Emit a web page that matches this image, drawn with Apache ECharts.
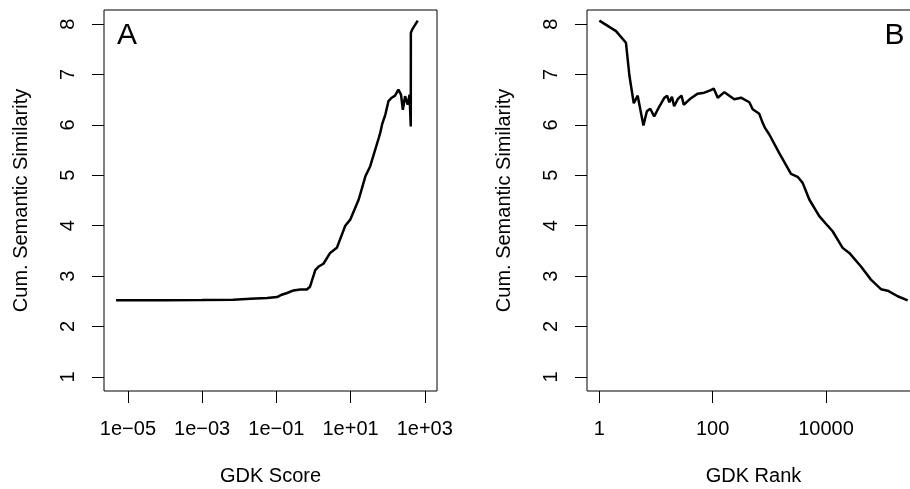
<!DOCTYPE html>
<html><head><meta charset="utf-8">
<script src="https://cdn.jsdelivr.net/npm/echarts@6/dist/echarts.min.js"></script>
<style>html,body{margin:0;padding:0;background:#fff}#c{width:910px;height:489px}</style>
</head><body><div id="c"></div>
<script>
// Panel A: cumulative semantic similarity vs GDK score
const scoreA = [4.8e-6, 1e-4, 1e-3, 6.9e-3, 0.02, 0.056, 0.105, 0.14, 0.195, 0.29, 0.44, 0.66, 0.81,
  1.12, 1.38, 1.86, 2.82, 4.27, 7.2, 9.8, 16.6, 25.1, 33.9, 57.5, 63, 68, 70.8, 87, 105, 129, 158, 195,
  229, 257, 295, 347, 389, 420, 422, 457, 646];
const simA = [2.52, 2.52, 2.525, 2.53, 2.55, 2.565, 2.585, 2.63, 2.665, 2.715, 2.735, 2.735, 2.79,
  3.12, 3.19, 3.245, 3.46, 3.56, 4.0, 4.12, 4.52, 4.98, 5.18, 5.74, 5.84, 5.86, 6.01, 6.21, 6.47, 6.54, 6.58, 6.70,
  6.60, 6.30, 6.57, 6.40, 6.60, 5.97, 7.83, 7.89, 8.07];

// Panel B: cumulative semantic similarity vs GDK rank
const rankB = [1, 1.97, 2.95, 3.4, 4.05, 4.75, 5.3, 6.0, 6.9, 7.9, 9.3, 11.5, 14.1, 15.7, 17.2, 19.1, 20.9,
  24.5, 28.2, 30.9, 41.4, 54.5, 71.3, 93, 104.5, 123, 161, 241, 316, 444, 509, 665, 764, 840, 1000, 1500,
  2415, 3160, 3880, 5080, 7620, 10700, 13100, 19700, 25800, 41500, 62200, 93500, 122700, 184500, 276700];
const simB = [8.07, 7.86, 7.63, 6.97, 6.43, 6.58, 6.30, 5.99, 6.27, 6.32, 6.17, 6.37, 6.54, 6.58, 6.45, 6.56, 6.37,
  6.52, 6.58, 6.40, 6.53, 6.62, 6.64, 6.69, 6.72, 6.54, 6.65, 6.51, 6.54, 6.45, 6.31, 6.22, 6.04, 5.94, 5.81, 5.44,
  5.03, 4.97, 4.85, 4.52, 4.19, 4.00, 3.89, 3.56, 3.46, 3.19, 2.93, 2.74, 2.71, 2.60, 2.52];

const xTickValuesA = [1e-5, 1e-3, 1e-1, 1e1, 1e3];
const xTickLabelsA = ['1e\u221205', '1e\u221203', '1e\u221201', '1e+01', '1e+03'];
const xTickValuesB = [1, 100, 10000];
const xTickLabelsB = ['1', '100', '10000'];
const yTicks = [1, 2, 3, 4, 5, 6, 7, 8];
const panelLabels = ['A', 'B'];
const xTitles = ['GDK Score', 'GDK Rank'];
const yTitle = 'Cum. Semantic Similarity';

const FONT = 'Liberation Sans, Arial, Helvetica, sans-serif';
const chart = echarts.init(document.getElementById('c'), null, {renderer: 'canvas'});

function fmt(values, labels) {
  return function (v) {
    for (let i = 0; i < values.length; i++) {
      if (Math.abs(Math.log10(values[i]) - v) < 1e-6) return labels[i];
    }
    return '';
  };
}

function xAxisDef(gi, min, max, tv, tl, title) {
  const logs = tv.map(Math.log10);
  return {
    type: 'value', gridIndex: gi, min: min, max: max,
    axisLine: {show: false, onZero: false},
    splitLine: {show: false},
    axisTick: {show: true, length: 12, customValues: logs, lineStyle: {color: '#000', width: 1}},
    axisLabel: {customValues: logs, formatter: fmt(tv, tl), margin: 28, fontSize: 20, color: '#000', fontFamily: FONT},
    name: title, nameLocation: 'middle', nameGap: 75,
    nameTextStyle: {fontSize: 20, color: '#000', fontFamily: FONT}
  };
}
function yAxisDef(gi) {
  return {
    type: 'value', gridIndex: gi, min: 0.72, max: 8.28,
    axisLine: {show: false, onZero: false},
    splitLine: {show: false},
    axisTick: {show: true, length: 12, customValues: yTicks, lineStyle: {color: '#000', width: 1}},
    axisLabel: {customValues: yTicks, rotate: 90, margin: 26, fontSize: 20, color: '#000', fontFamily: FONT},
    name: yTitle, nameLocation: 'middle', nameGap: 73, nameRotate: 90,
    nameTextStyle: {fontSize: 20, color: '#000', fontFamily: FONT}
  };
}

const option = {
  animation: false,
  backgroundColor: '#fff',
  grid: [
    {left: 104, top: 10, width: 333, height: 381, show: true, borderColor: '#000', borderWidth: 1, containLabel: false, outerBoundsMode: 'none'},
    {left: 587, top: 10, width: 333, height: 381, show: true, borderColor: '#000', borderWidth: 1, containLabel: false, outerBoundsMode: 'none'}
  ],
  xAxis: [
    xAxisDef(0, -5.645, 3.33, xTickValuesA, xTickLabelsA, xTitles[0]),
    xAxisDef(1, -0.218, 5.66, xTickValuesB, xTickLabelsB, xTitles[1])
  ],
  yAxis: [yAxisDef(0), yAxisDef(1)],
  series: [
    {type: 'line', xAxisIndex: 0, yAxisIndex: 0, showSymbol: false, silent: true,
     data: scoreA.map((s, i) => [Math.log10(s), simA[i]]),
     lineStyle: {color: '#000', width: 2.5}},
    {type: 'line', xAxisIndex: 1, yAxisIndex: 1, showSymbol: false, silent: true,
     data: rankB.map((r, i) => [Math.log10(r), simB[i]]),
     lineStyle: {color: '#000', width: 2.5}}
  ],
  graphic: [
    {type: 'text', x: 117, y: 36, style: {text: panelLabels[0], fontSize: 30, fontFamily: FONT, fill: '#000', align: 'left', verticalAlign: 'middle'}},
    {type: 'text', x: 884.5, y: 36, style: {text: panelLabels[1], fontSize: 30, fontFamily: FONT, fill: '#000', align: 'left', verticalAlign: 'middle'}}
  ]
};
chart.setOption(option);
</script>
</body></html>
